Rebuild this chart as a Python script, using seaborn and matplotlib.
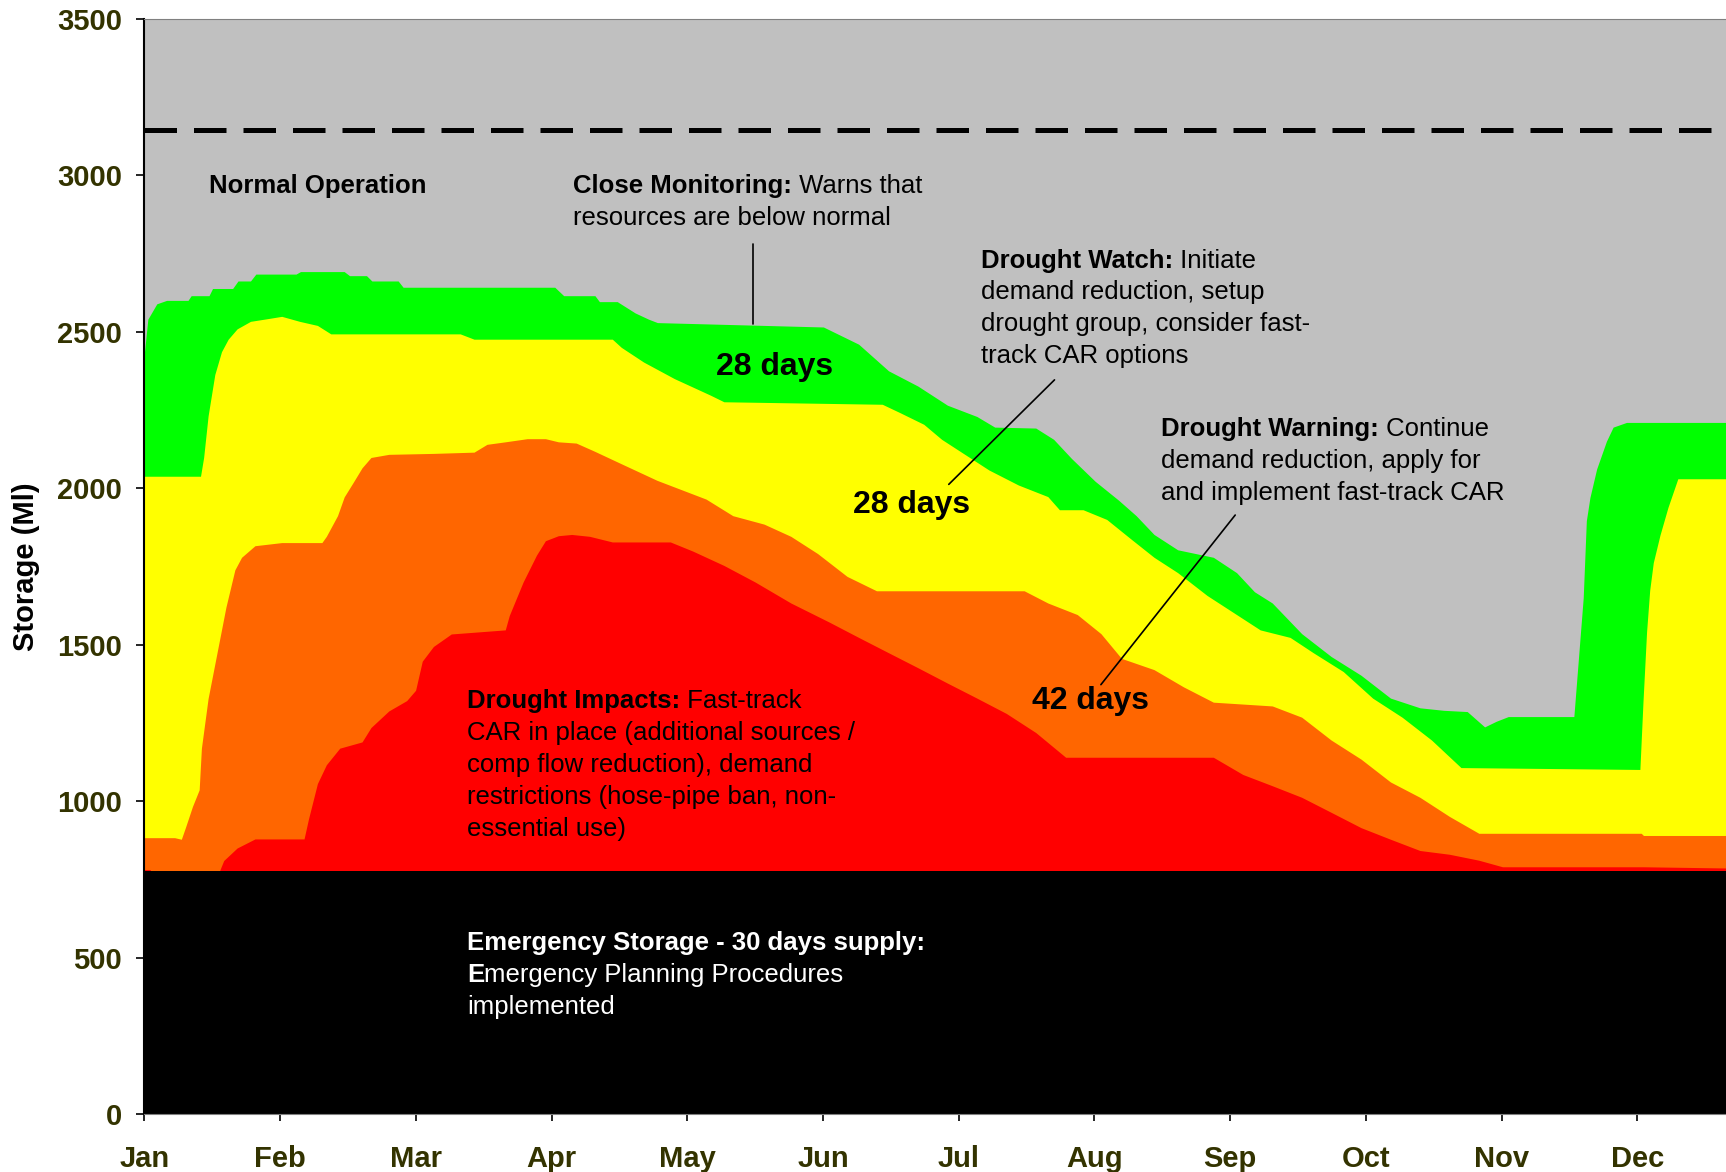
import matplotlib
matplotlib.use("Agg")
import matplotlib.pyplot as plt
import seaborn as sns

# --- Drought control curves: day of year vs storage (Ml) ---
green_days = [0, 0.8, 2.8, 5, 9.8, 10.5, 14.5, 15.3, 19.8, 21,
              23.8, 25, 34, 35, 44.8, 46, 49.8, 51, 56.9, 58,
              92, 94, 101, 102, 106, 110, 113, 115, 152.2, 160.1,
              166.8, 173.4, 180, 186.6, 190.6, 199.8, 203.8, 207.8, 213.1, 218.4,
              222.3, 226.3, 231.6, 239.6, 244.8, 248.8, 252.8, 259.4, 266, 272.7,
              279.3, 285.9, 291.2, 296.5, 300.4, 303, 305.7, 320.4, 322.5, 323.2,
              324, 325.5, 327.7, 329.2, 332.2, 365]
green_top = [2430, 2540, 2589, 2600, 2600, 2615, 2615, 2638, 2638, 2662,
             2662, 2684, 2684, 2692, 2692, 2679, 2679, 2662, 2662, 2642,
             2642, 2615, 2615, 2596, 2596, 2560, 2540, 2529, 2515, 2460,
             2375, 2326, 2265, 2229, 2195, 2192, 2156, 2095, 2022, 1961,
             1912, 1852, 1803, 1779, 1730, 1669, 1633, 1535, 1462, 1402,
             1329, 1298, 1290, 1286, 1237, 1255, 1270, 1270, 1650, 1896,
             1970, 2061, 2150, 2195, 2210, 2210]

yellow_days = [0, 12.6, 13.3, 14.3, 15.8, 17.3, 18.8, 20.8, 23.8, 27.8,
               30.8, 34.8, 38.8, 41.8, 70.8, 73.9, 104.9, 106.9, 111.9, 118.8,
               126.9, 129.9, 165.4, 169.4, 174.7, 178.7, 184, 189.3, 195.9, 202.5,
               205.1, 210.4, 215.7, 221, 226.3, 231.6, 238.2, 244.8, 250.1, 256.8,
               262, 268.7, 275.3, 281.9, 288.5, 295.1, 335.2, 335.9, 336.7, 337.4,
               338.2, 339.7, 341.5, 343.7, 365]
yellow_top = [2038, 2038, 2098, 2231, 2363, 2436, 2476, 2509, 2533, 2542,
              2549, 2533, 2520, 2493, 2493, 2476, 2476, 2450, 2403, 2350,
              2297, 2276, 2268, 2241, 2204, 2156, 2107, 2058, 2010, 1973,
              1931, 1931, 1900, 1839, 1779, 1730, 1657, 1596, 1547, 1523,
              1474, 1414, 1329, 1268, 1195, 1107, 1101, 1319, 1541, 1674,
              1762, 1850, 1939, 2030, 2030]

orange_days = [0, 6.8, 8.3, 9.3, 10.8, 12.3, 12.8, 14.3, 16.3, 18.3,
               20.3, 21.8, 24.8, 30.8, 39.8, 40.8, 43.3, 44.8, 46.8, 48.8,
               50.8, 54.8, 64.8, 73.9, 76.8, 80.9, 85.8, 89.9, 92.8, 96.8,
               100.9, 106.9, 114.9, 125.9, 131.9, 138.9, 144.9, 150.9, 157.5, 164.1,
               197.2, 202.5, 209.1, 214.4, 219, 226.3, 232.9, 239.6, 252.8, 259.4,
               266, 272.7, 279.3, 285.9, 292.5, 299.1, 335.5, 336, 365]
orange_top = [883, 883, 878, 919, 983, 1036, 1169, 1328, 1474, 1620,
              1739, 1779, 1816, 1826, 1826, 1846, 1912, 1972, 2018, 2065,
              2098, 2108, 2111, 2115, 2140, 2148, 2158, 2158, 2148, 2144,
              2118, 2078, 2025, 1965, 1912, 1885, 1846, 1791, 1718, 1672,
              1672, 1633, 1596, 1535, 1456, 1420, 1365, 1316, 1304, 1268,
              1195, 1134, 1061, 1012, 951, 897, 897, 890, 890]

red_days = [0, 1.3, 1.5, 11.8, 16.8, 17.8, 20.8, 24.8, 35.8, 36.8,
            38.8, 40.8, 43.8, 48.8, 50.8, 54.8, 58.8, 60.8, 62.3, 64.8,
            68.8, 80.9, 81.8, 84.9, 87.9, 89.9, 92.8, 95.8, 99.8, 104.9,
            117.9, 122.9, 129.9, 136.9, 144.9, 153.5, 160.1, 166.8, 173.4, 180,
            186.6, 193.2, 199.8, 206.5, 239.6, 246.2, 252.8, 259.4, 266, 272.7,
            279.3, 285.9, 292.5, 299.1, 304.4, 336, 365]
red_top = [781, 781, 775, 775, 775, 810, 850, 879, 879, 943,
           1056, 1116, 1169, 1189, 1235, 1288, 1321, 1354, 1447, 1494,
           1534, 1547, 1593, 1700, 1786, 1832, 1848, 1852, 1846, 1828,
           1828, 1799, 1753, 1700, 1633, 1572, 1523, 1474, 1426, 1377,
           1329, 1280, 1219, 1140, 1140, 1085, 1049, 1012, 964, 915,
           878, 842, 830, 811, 790, 790, 784]

emergency_days = [0, 365]
emergency_level = [775, 775]
normal_line = 3145

month_ticks = [0, 30.4, 60.8, 91.3, 121.7, 152.1, 182.5, 212.9, 243.3, 273.8, 304.2, 334.6]
month_labels = ["Jan", "Feb", "Mar", "Apr", "May", "Jun",
                "Jul", "Aug", "Sep", "Oct", "Nov", "Dec"]
storage_ticks = [0, 500, 1000, 1500, 2000, 2500, 3000, 3500]

# --- Style ---
sns.set_style("white")
plt.rcParams["font.family"] = ["Liberation Sans", "DejaVu Sans"]
plt.rcParams["text.color"] = "black"
TICK_COLOR = "#333300"
FS = 18.5
LINE_PT = 23

fig = plt.figure(figsize=(17.26, 11.72), dpi=100)
ax = fig.add_axes([0.0836, 0.0495, 0.9164, 0.9345])
ax.set_facecolor("#C0C0C0")

# --- Zones, drawn from the top curve down ---
layers = [
    (green_days, green_top, "#00FF00"),
    (yellow_days, yellow_top, "#FFFF00"),
    (orange_days, orange_top, "#FF6600"),
    (red_days, red_top, "#FF0000"),
    (emergency_days, emergency_level, "#000000"),
]
for days, top, colour in layers:
    ax.fill_between(days, 0, top, color=colour, lw=0, zorder=1)

ax.axhline(normal_line, color="black", lw=3.6, dashes=(6.5, 3.4), zorder=2)

ax.set_xlim(0, 354.5)
ax.set_ylim(0, 3500)
ax.set_xticks(month_ticks)
ax.set_xticklabels(month_labels)
ax.set_yticks(storage_ticks)
for lab in ax.get_xticklabels() + ax.get_yticklabels():
    lab.set_fontweight("bold")
    lab.set_color(TICK_COLOR)
    lab.set_fontsize(21)
ax.tick_params(axis="y", length=6, width=1.2, pad=10, color="black", left=True)
ax.tick_params(axis="x", length=5, width=1.2, pad=17, color="black", bottom=True)

ax.set_ylabel("Storage (Ml)", fontsize=21, fontweight="bold", color="black")
ax.yaxis.set_label_coords(-0.066, 0.5)

ax.spines["right"].set_visible(False)
ax.spines["left"].set_color("black")
ax.spines["left"].set_linewidth(1.5)
ax.spines["top"].set_color("#808080")
ax.spines["bottom"].set_color("#808080")


# --- Annotations ---
def label_block(x, y, lines, color="black"):
    for i, (bold, rest) in enumerate(lines):
        dy = -i * LINE_PT
        if bold:
            t = ax.annotate(bold, xy=(x, y), xytext=(0, dy), textcoords="offset points",
                            fontsize=FS, fontweight="bold", color=color,
                            ha="left", va="baseline", zorder=5)
            if rest:
                ax.annotate(rest, xy=(1, 0), xycoords=t, fontsize=FS, color=color,
                            ha="left", va="bottom", zorder=5)
        else:
            ax.annotate(rest, xy=(x, y), xytext=(0, dy), textcoords="offset points",
                        fontsize=FS, color=color, ha="left", va="baseline", zorder=5)


label_block(14.6, 2944, [("Normal Operation", "")])
label_block(96.0, 2944, [("Close Monitoring:", " Warns that"),
                         ("", "resources are below normal")])
label_block(187.5, 2705, [("Drought Watch:", " Initiate"),
                          ("", "demand reduction, setup"),
                          ("", "drought group, consider fast-"),
                          ("", "track CAR options")])
label_block(227.9, 2167, [("Drought Warning:", " Continue"),
                          ("", "demand reduction, apply for"),
                          ("", "and implement fast-track CAR")])
label_block(72.3, 1298, [("Drought Impacts:", " Fast-track"),
                         ("", "CAR in place (additional sources /"),
                         ("", "comp flow reduction), demand"),
                         ("", "restrictions (hose-pipe ban, non-"),
                         ("", "essential use)")])
label_block(72.3, 524, [("Emergency Storage - 30 days supply:", ""),
                        ("E", "mergency Planning Procedures"),
                        ("", "implemented")], color="white")

for x, y, txt in [(141.3, 2388, "28 days"), (171.9, 1945, "28 days"), (212.1, 1319, "42 days")]:
    ax.text(x, y, txt, fontsize=23, fontweight="bold", color="black",
            ha="center", va="center", zorder=5)

# pointer lines
ax.plot([136.4, 136.4], [2779, 2525], color="black", lw=1.2, zorder=4)
ax.plot([204.0, 180.3], [2346, 2012], color="black", lw=1.2, zorder=4)
ax.plot([244.5, 214.4], [1914, 1372], color="black", lw=1.2, zorder=4)

plt.savefig("out.png", dpi=100)
plt.close()
